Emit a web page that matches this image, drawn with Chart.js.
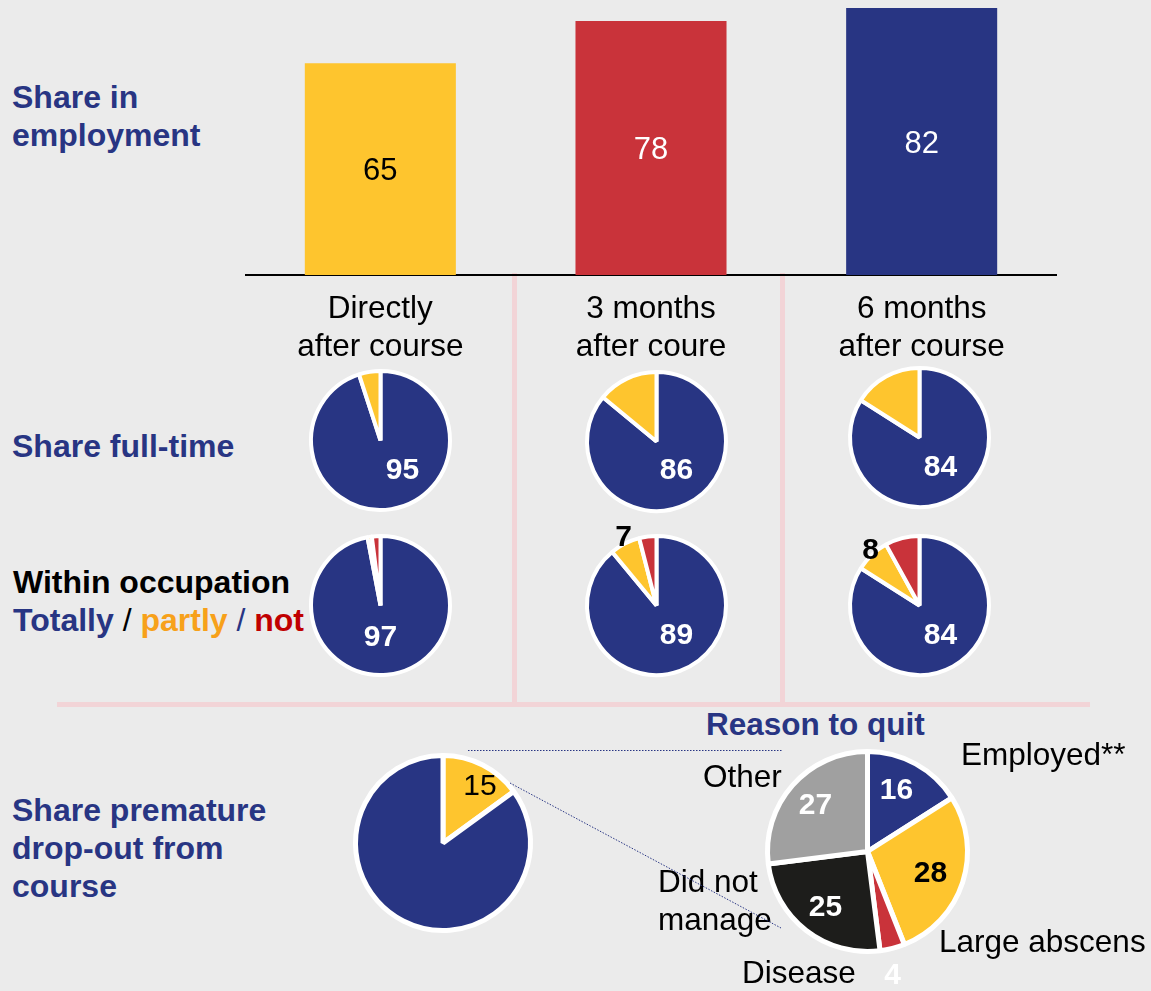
<!DOCTYPE html>
<html>
<head>
<meta charset="utf-8">
<title>Course outcomes</title>
<script src="https://cdn.jsdelivr.net/npm/chart.js@4/dist/chart.umd.min.js"></script>
<style>
  html, body { margin: 0; padding: 0; background: #ebebeb; }
  #page { position: relative; width: 1151px; height: 991px; overflow: hidden; background: #ebebeb;
          font-family: "Liberation Sans", Arial, Helvetica, sans-serif; }
  .txt { position: absolute; font-size: 31.5px; line-height: 38px; white-space: pre; color: #000; }
  .head { font-weight: bold; color: #283583; }
  .row { font-size: 32px; }
  .rule { position: absolute; background: #f2d4d7; }
  canvas { position: absolute; }
  svg { position: absolute; left: 0; top: 0; }
</style>
</head>
<body>
<div id="page">
  <!-- section separators -->
  <div class="rule" style="left:512px;top:273px;width:5px;height:432px"></div>
  <div class="rule" style="left:780px;top:273px;width:5px;height:432px"></div>
  <div class="rule" style="left:57px;top:702px;width:1033px;height:5px"></div>

  <!-- row headings -->
  <div class="txt head row" style="left:12px;top:78px">Share in
employment</div>
  <div class="txt head row" style="left:12px;top:427px">Share full-time</div>
  <div class="txt row" style="left:13px;top:563px;font-weight:bold">Within occupation
<span style="color:#283583">Totally</span><span style="font-weight:normal"> / </span><span style="color:#f7a11a">partly</span><span style="font-weight:normal;color:#283583"> / </span><span style="color:#c00000">not</span></div>
  <div class="txt head row" style="left:12px;top:791px">Share premature
drop-out from
course</div>
  <div class="txt head" style="left:706px;top:705px">Reason to quit</div>

  <canvas id="bars" width="812" height="370" style="left:245px;top:0px"></canvas>
  <canvas id="ft0"></canvas><canvas id="ft1"></canvas><canvas id="ft2"></canvas>
  <canvas id="oc0"></canvas><canvas id="oc1"></canvas><canvas id="oc2"></canvas>
  <canvas id="drop"></canvas>
  <canvas id="quit"></canvas>

  <!-- zoom connectors from the drop-out slice to the reasons pie -->
  <svg width="1151" height="991">
    <g stroke="#283583" stroke-width="1" stroke-dasharray="1.5,1.5" fill="none">
      <line x1="468" y1="750.5" x2="783" y2="750.5"/>
      <line x1="510" y1="783" x2="781" y2="928"/>
    </g>
  </svg>
</div>

<script>
// ---- data ----
const periods = [['Directly', 'after course'], ['3 months', 'after coure'], ['6 months', 'after course']];
const employedShare = [65, 78, 82];
const fullTimeShare = [95, 86, 84];
const partTimeShare = [5, 14, 16];
const occTotally = [97, 89, 84];
const occPartly = [1, 7, 8];
const occNot = [2, 4, 8];
const dropOutShare = [15, 85];          // dropped out, completed
const quitReasons = ['Employed**', 'Large abscens', 'Disease', 'Did not\nmanage', 'Other'];
const quitShares = [16, 28, 4, 25, 27];

// ---- styles ----
const NAVY = '#283583', YELLOW = '#fec52e', RED = '#c9333a', GREY = '#a0a0a0', BLACK = '#1d1d1b';
const FONT = '"Liberation Sans", Arial, Helvetica, sans-serif';
const barColors = [YELLOW, RED, NAVY];
const barTextColors = ['#000', '#fff', '#fff'];

// writes each mark's own value next to / inside it
const valueLabels = {
  id: 'valueLabels',
  afterDatasetsDraw(chart, args, opts) {
    const items = opts.items || [];
    const ds = chart.data.datasets[0];
    const meta = chart.getDatasetMeta(0);
    const ctx = chart.ctx;
    meta.data.forEach((el, i) => {
      const s = items[i];
      if (!s) return;
      let x, y;
      if (chart.config.type === 'bar') { x = el.x; y = (el.y + el.base) / 2 + (s.dy || 0); }
      else { x = el.x + s.dx; y = el.y + s.dy; }
      ctx.save();
      ctx.font = (s.bold ? 'bold ' : '') + (s.size || 30) + 'px ' + FONT;
      ctx.fillStyle = s.color;
      ctx.textAlign = 'center';
      ctx.textBaseline = 'middle';
      ctx.fillText(String(ds.data[i]), x, y);
      ctx.restore();
    });
  }
};
Chart.register(valueLabels);

// ---- employment bars ----
new Chart(document.getElementById('bars'), {
  type: 'bar',
  data: {
    labels: periods,
    datasets: [{ data: employedShare, backgroundColor: barColors, borderWidth: 0,
                 barPercentage: 0.558, categoryPercentage: 1 }]
  },
  options: {
    responsive: false, animation: false, events: [],
    layout: { padding: { top: 8, left: 0, right: 0, bottom: 0 } },
    scales: {
      y: { display: false, min: 0, max: 82 },
      x: {
        grid: { display: false, drawTicks: false },
        border: { display: true, color: '#000', width: 2 },
        ticks: { color: '#000', padding: 15, maxRotation: 0, autoSkip: false,
                 font: { family: FONT, size: 31.5, lineHeight: 38 / 31.5 } },
        afterFit(scale) { scale.height = 95; }
      }
    },
    plugins: {
      legend: { display: false }, tooltip: { enabled: false },
      valueLabels: { items: barTextColors.map(c => ({ color: c, size: 31, dy: 2.5 })) }
    }
  }
});

// ---- pies ----
function placePie(id, cx, cy, diam, pad, values, colors, border, items) {
  const p = typeof pad === 'number' ? { top: pad, left: pad, right: pad, bottom: pad } : pad;
  const cv = document.getElementById(id);
  cv.width = diam + p.left + p.right;
  cv.height = diam + p.top + p.bottom;
  cv.style.left = (cx - diam / 2 - p.left) + 'px';
  cv.style.top = (cy - diam / 2 - p.top) + 'px';
  new Chart(cv, {
    type: 'pie',
    data: { datasets: [{ data: values, backgroundColor: colors, borderColor: '#fff', borderWidth: border }] },
    options: {
      responsive: false, animation: false, events: [],
      layout: { padding: p },
      plugins: { legend: { display: false }, tooltip: { enabled: false }, valueLabels: { items } }
    }
  });
}

const colX = [380.5, 656, 919];
const ftY = [440.5, 441, 437];
const ocY = [605, 605, 605];
const ftLabelPos = [{ dx: 22, dy: 30 }, { dx: 20, dy: 29 }, { dx: 21, dy: 30 }];
const ocLabelPos = [{ dx: 0, dy: 32 }, { dx: 20, dy: 30 }, { dx: 21, dy: 30 }];
const ocPartPos = [null, { dx: -33, dy: -68 }, { dx: -49, dy: -55 }];

for (let i = 0; i < 3; i++) {
  placePie('ft' + i, colX[i], ftY[i], 143, 30,
    [fullTimeShare[i], partTimeShare[i]], [NAVY, YELLOW], 4,
    [Object.assign({ color: '#fff', bold: true }, ftLabelPos[i]), null]);
  placePie('oc' + i, colX[i], ocY[i], 143, 30,
    [occTotally[i], occPartly[i], occNot[i]], [NAVY, YELLOW, RED], 4,
    [Object.assign({ color: '#fff', bold: true }, ocLabelPos[i]),
     ocPartPos[i] ? Object.assign({ color: '#000', bold: true }, ocPartPos[i]) : null,
     null]);
}

placePie('drop', 443, 843, 180, 10, dropOutShare, [YELLOW, NAVY], 5,
  [{ dx: 37, dy: -56, color: '#000' }, null]);

placePie('quit', 867, 851, 205, { top: 10, left: 10, right: 10, bottom: 50 },
  quitShares, [NAVY, YELLOW, RED, BLACK, GREY], 5,
  [{ dx: 29, dy: -61, color: '#fff', bold: true },
   { dx: 63, dy: 22, color: '#000', bold: true },
   { dx: 25, dy: 124, color: '#fff', bold: true },
   { dx: -42, dy: 56, color: '#fff', bold: true },
   { dx: -52, dy: -46, color: '#fff', bold: true }]);

// reason captions around the pie
const quitCaptionPos = [[961, 735], [939, 922], [742, 953], [658, 862], [703, 757]];
const page = document.getElementById('page');
quitReasons.forEach((name, i) => {
  const d = document.createElement('div');
  d.className = 'txt';
  d.textContent = name;
  d.style.left = quitCaptionPos[i][0] + 'px';
  d.style.top = quitCaptionPos[i][1] + 'px';
  page.insertBefore(d, page.querySelector('svg'));
});
</script>
</body>
</html>
